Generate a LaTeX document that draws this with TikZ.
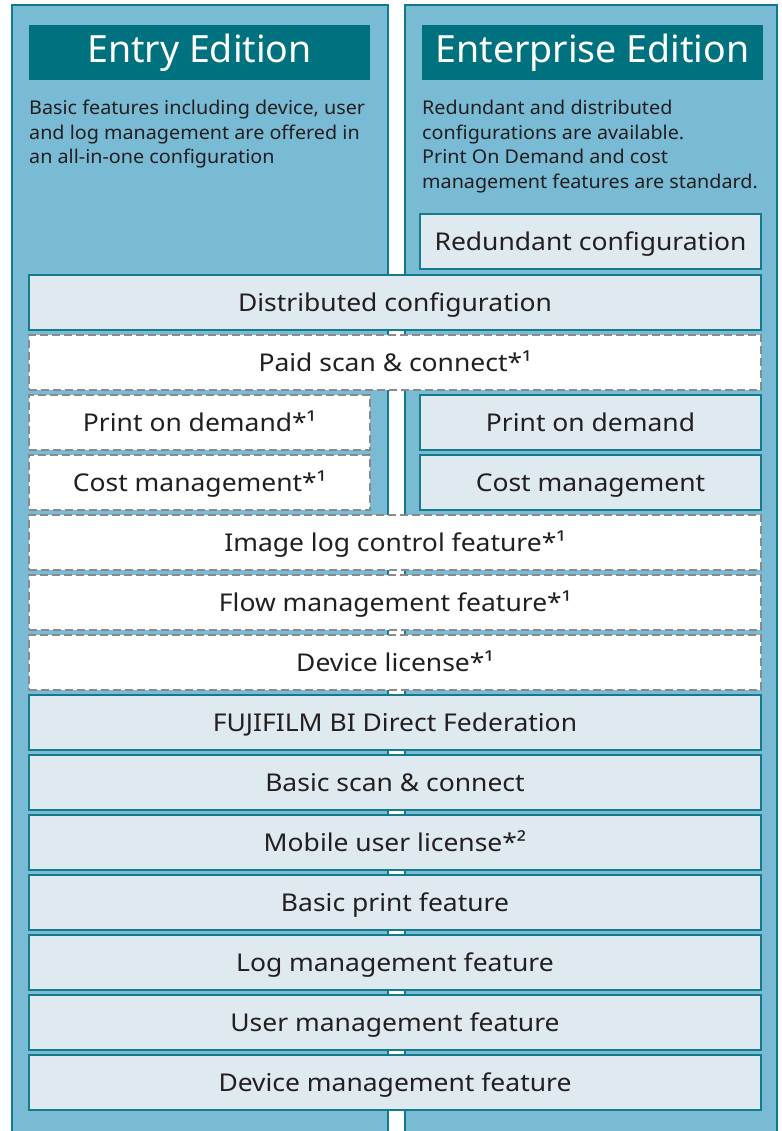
\documentclass[tikz,border=0pt]{standalone}
\usepackage{fontspec}
\setmainfont{Noto Sans}
\newfontfamily\boxfont[FakeStretch=1.08]{Noto Sans}
\newfontfamily\descfont[FakeStretch=1.04]{Noto Sans}
\definecolor{panelblue}{HTML}{79BAD4}
\definecolor{panelline}{HTML}{0E7A8C}
\definecolor{headteal}{HTML}{00717F}
\definecolor{boxfill}{HTML}{DFE9F0}
\definecolor{boxline}{HTML}{137B8C}
\definecolor{dashgray}{HTML}{8A8A8A}
\definecolor{inktext}{HTML}{231F20}
\tikzset{
  panel/.style={draw=panelline, line width=2.5pt, fill=panelblue},
  headbox/.style={fill=headteal, text=white, inner sep=0pt, outer sep=0pt,
    minimum height=55pt, font=\fontsize{37.5}{40}\selectfont, anchor=north west},
  bodytext/.style={text=inktext, align=left, inner sep=0pt, anchor=north west,
    font=\descfont\fontsize{19}{24.5}\selectfont},
  feat/.style={draw=boxline, line width=2.5pt, fill=boxfill, text=inktext,
    inner sep=0pt, outer sep=0pt, minimum height=55pt, anchor=north west,
    text height=17.5pt, text depth=0pt, font=\boxfont\fontsize{24.5}{28}\selectfont},
  optbox/.style={feat, draw=dashgray, fill=white, dash pattern=on 8pt off 4pt},
  wide/.style={minimum width=732pt},
  half/.style={minimum width=341pt},
}
\begin{document}
\begin{tikzpicture}[x=1pt,y=-1pt]
\useasboundingbox (0,0) rectangle (781,1131);
\fill[white] (0,0) rectangle (781,1131);
% panels
\path[panel] (12,5) rectangle (388,1145);
\path[panel] (405,5) rectangle (777,1145);
% headers
\node[headbox, minimum width=341pt] (entry) at (29,25) {Entry Edition};
\node[headbox, minimum width=341pt] (ent) at (422,25) {Enterprise Edition};
% descriptions
\node[bodytext] (entrytxt) at (29,100) {Basic features including device, user\\and log management are offered in\\an all-in-one configuration};
\node[bodytext] (enttxt) at (422,100) {Redundant and distributed\\configurations are available.\\Print On Demand and cost\\management features are standard.};
% boxes
\node[feat, half] (redund) at (420,214) {Redundant configuration};
\node[feat, wide] (distrib) at (29,275) {Distributed configuration};
\node[optbox, wide] (paid) at (29,335) {Paid scan \& connect*¹};
\node[optbox, half] (podopt) at (29,395) {Print on demand*¹};
\node[feat, half] (pod) at (420,395) {Print on demand};
\node[optbox, half] (costopt) at (29,455) {Cost management*¹};
\node[feat, half] (cost) at (420,455) {Cost management};
\node[optbox, wide] (imglog) at (29,515) {Image log control feature*¹};
\node[optbox, wide] (flow) at (29,575) {Flow management feature*¹};
\node[optbox, wide] (devlic) at (29,635) {Device license*¹};
\node[feat, wide] (fed) at (29,695) {FUJIFILM BI Direct Federation};
\node[feat, wide] (bscan) at (29,755) {Basic scan \& connect};
\node[feat, wide] (mobile) at (29,815) {Mobile user license*²};
\node[feat, wide] (bprint) at (29,875) {Basic print feature};
\node[feat, wide] (logm) at (29,935) {Log management feature};
\node[feat, wide] (userm) at (29,995) {User management feature};
\node[feat, wide] (devm) at (29,1055) {Device management feature};
\end{tikzpicture}
\end{document}
